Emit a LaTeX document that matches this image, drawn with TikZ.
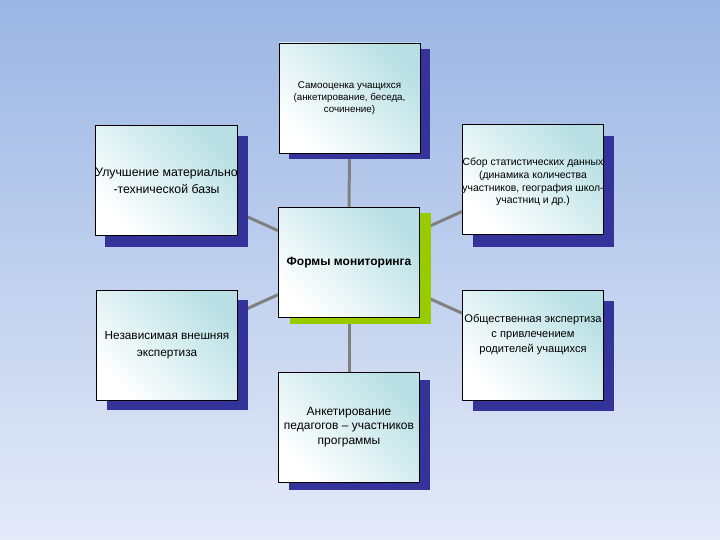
\documentclass[tikz,border=0pt]{standalone}
\usepackage{fontspec}
\setmainfont{Liberation Sans}
\usetikzlibrary{shadows}
\pgfdeclarelayer{bglayer}
\pgfdeclarelayer{background}
\pgfsetlayers{bglayer,background,main}

\definecolor{navyshade}{RGB}{51,51,153}
\definecolor{limeshade}{RGB}{153,204,0}
\definecolor{tealtint}{RGB}{184,224,228}
\definecolor{conncol}{RGB}{128,128,128}
\definecolor{bgtop}{RGB}{155,182,228}
\definecolor{bgmid}{RGB}{198,212,240}
\definecolor{bgbot}{RGB}{228,234,248}

\tikzset{
  boxnode/.style={draw=black, line width=0.9pt, minimum width=141pt, minimum height=110pt,
    inner sep=0pt, align=center, top color=tealtint, middle color=tealtint!35!white,
    bottom color=white, shading angle=-45, text=black},
  navyshadow/.style={general shadow={fill=navyshade, shadow xshift=10pt, shadow yshift=-#1}},
  limeshadow/.style={general shadow={fill=limeshade, shadow xshift=11pt, shadow yshift=-6pt}},
  connector/.style={draw=conncol, line width=3pt},
  plaintext/.style={align=center, inner sep=0pt, text=black}
}

\begin{document}
\begin{tikzpicture}[x=1pt,y=-1pt]
\useasboundingbox (0,0) rectangle (720,540);
\begin{pgfonlayer}{bglayer}
  \shade[top color=bgtop, middle color=bgmid, bottom color=bgbot] (0,0) rectangle (720,540);
\end{pgfonlayer}

\node[boxnode, navyshadow=6pt, font=\fontsize{9.8}{12}\selectfont] (top) at (349.5,98)
  {Самооценка учащихся\\(анкетирование, беседа,\\сочинение)};
\node[boxnode, navyshadow=11pt, font=\fontsize{12.3}{17}\selectfont] (lt) at (166.5,180.5)
  {Улучшение материально\\-технической базы};
\node[boxnode, navyshadow=12pt] (rt) at (533,179.5) {};
\node[plaintext, font=\fontsize{10.4}{12.7}\selectfont] (rtt) at ([yshift=-2.5pt]rt.center)
  {Сбор статистических данных\\(динамика количества\\участников, география школ-\\участниц и др.)};
\node[boxnode, limeshadow, font=\bfseries\fontsize{12}{14}\selectfont] (c) at (349,262.5)
  {Формы мониторинга};
\node[boxnode, navyshadow=10pt, font=\fontsize{11.8}{17}\selectfont] (lb) at (167,345)
  {Независимая внешняя\\экспертиза};
\node[boxnode, navyshadow=11pt] (rb) at (533,345) {};
\node[plaintext, font=\fontsize{11.1}{15}\selectfont] (rbt) at ([yshift=10pt]rb.center)
  {Общественная экспертиза\\с привлечением\\родителей учащихся};
\node[boxnode, navyshadow=8pt, font=\fontsize{12}{14.5}\selectfont] (b) at (349,427)
  {Анкетирование\\педагогов – участников\\программы};

\begin{pgfonlayer}{background}
  \draw[connector] (c) -- (top);
  \draw[connector] (c) -- (b);
  \draw[connector] (c) -- (lt);
  \draw[connector] (c) -- (rt);
  \draw[connector] (c) -- (lb);
  \draw[connector] (c) -- (rb);
\end{pgfonlayer}
\end{tikzpicture}
\end{document}
